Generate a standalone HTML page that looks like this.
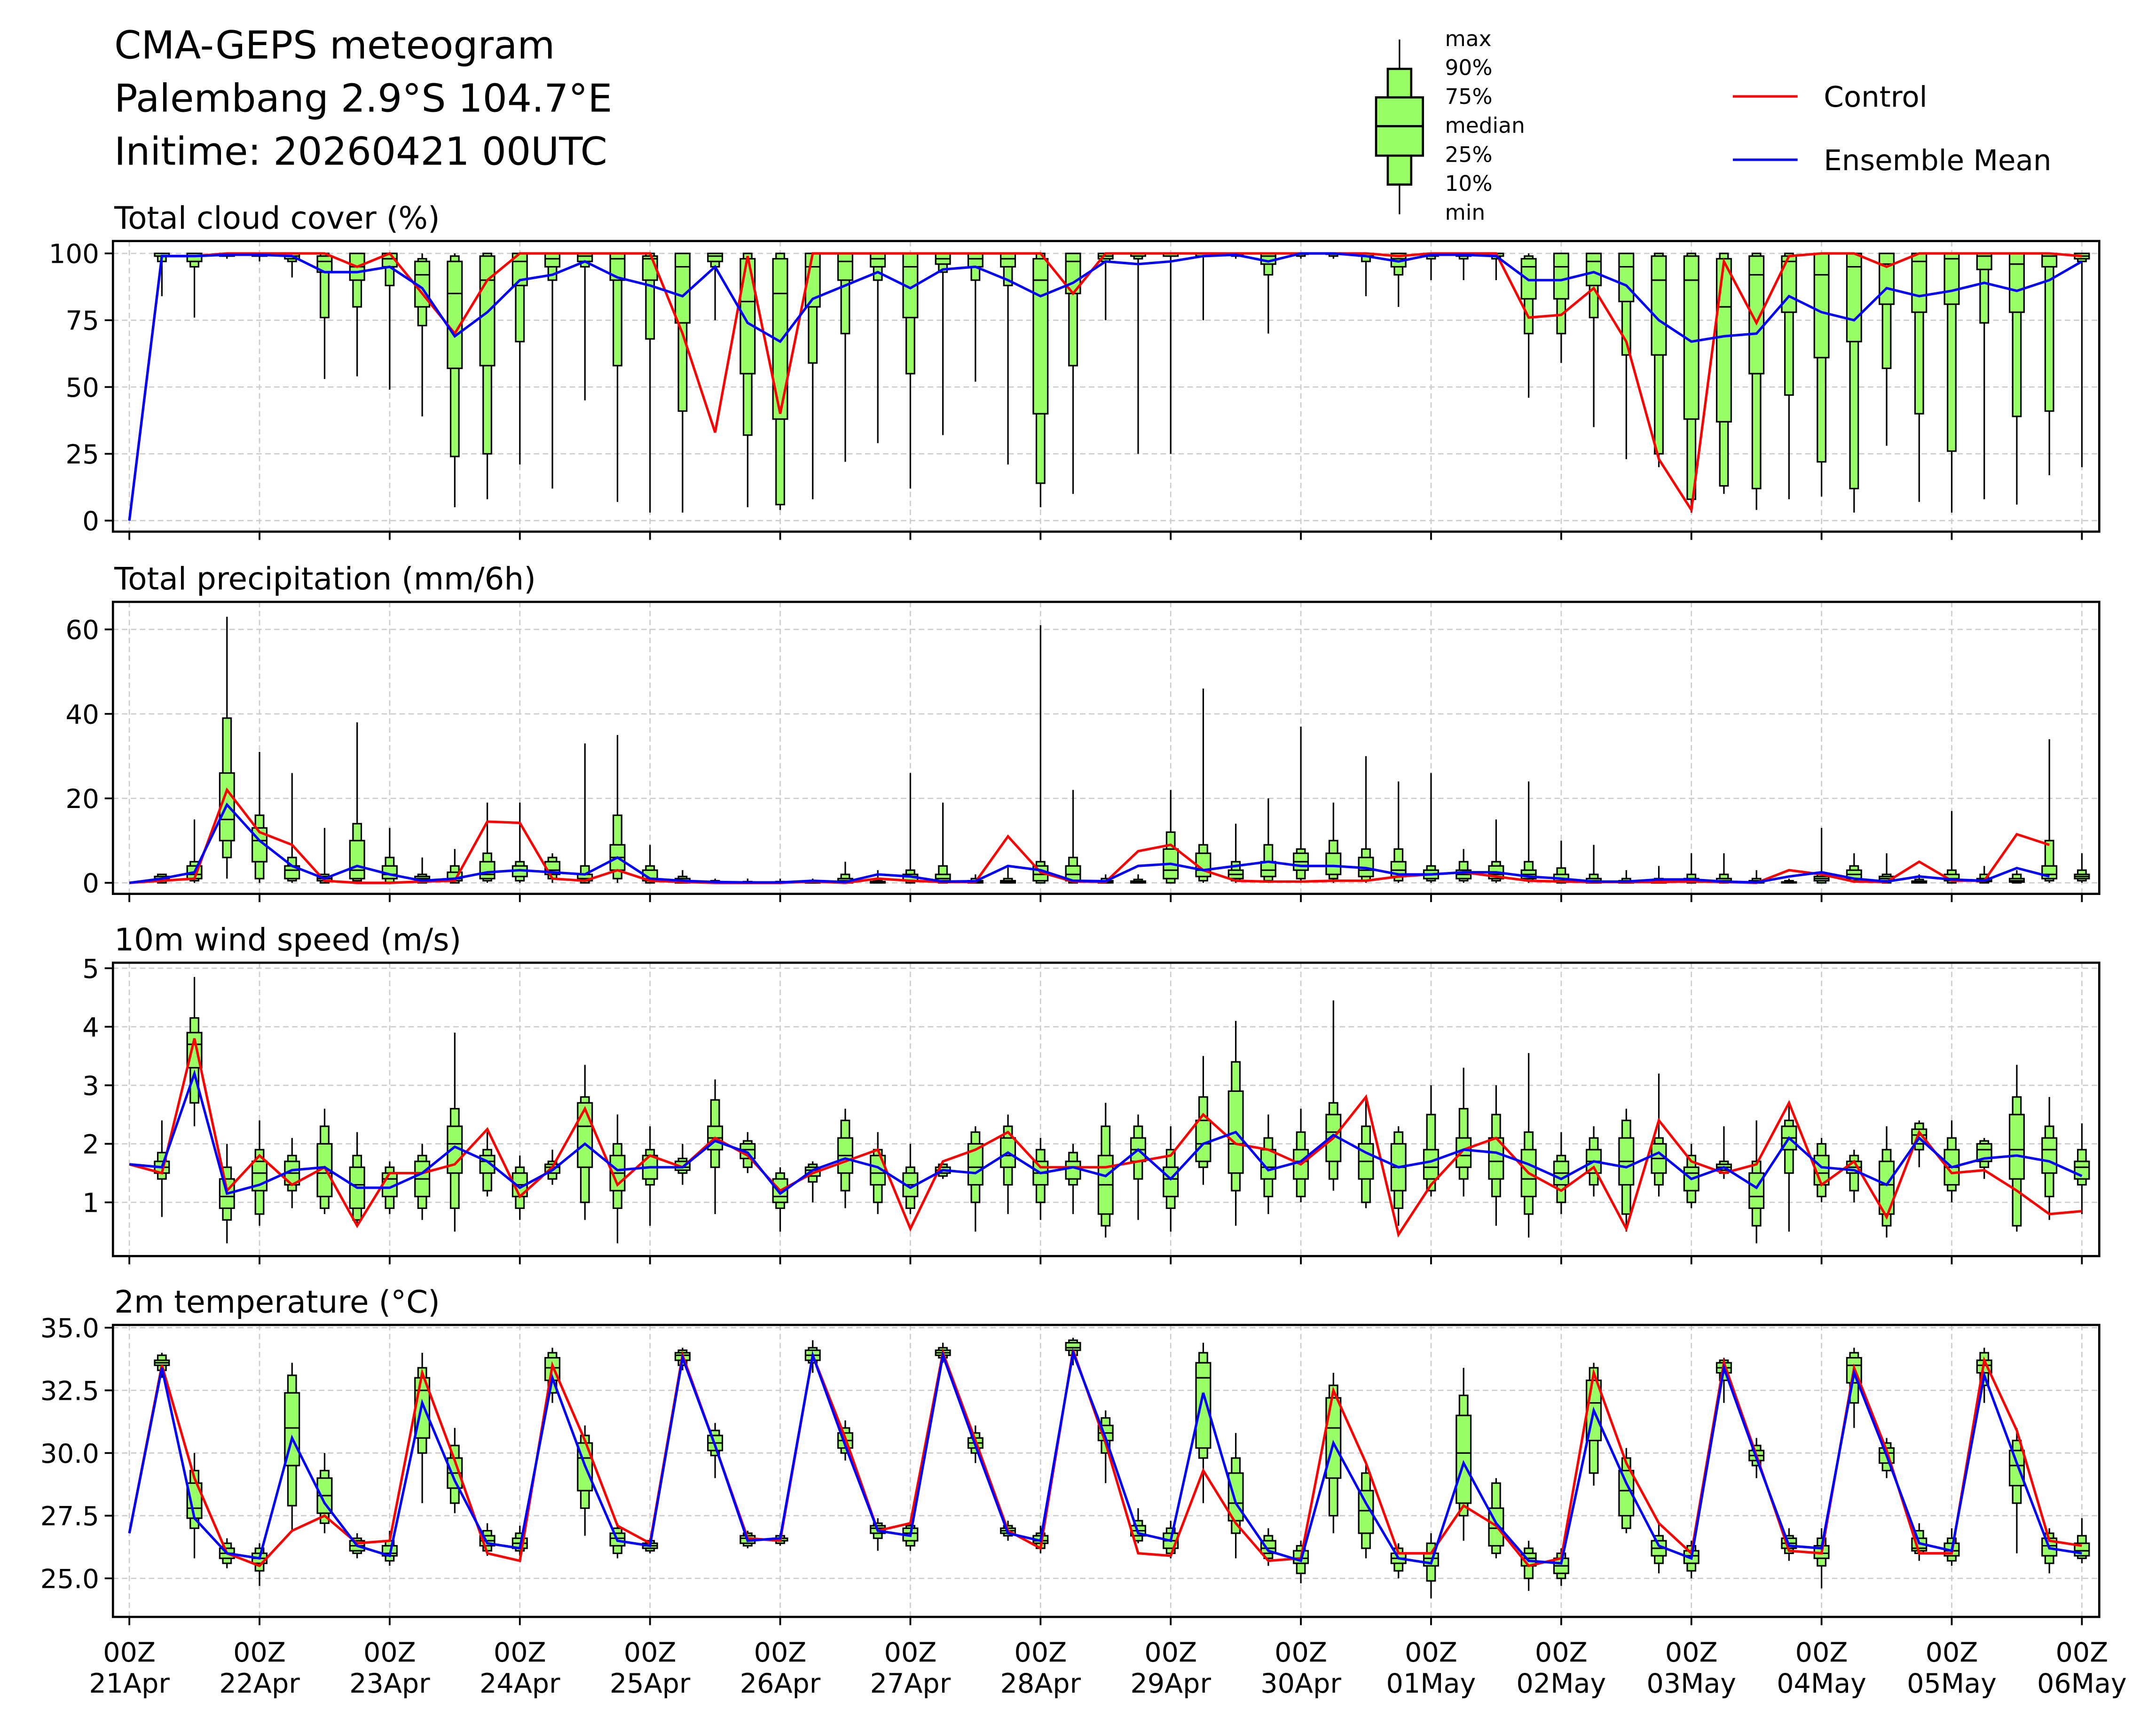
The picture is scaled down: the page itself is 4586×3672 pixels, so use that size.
<!DOCTYPE html>
<html><head><meta charset="utf-8"><style>
html,body{margin:0;padding:0;background:#fff;}
svg{display:block;}
text{font-family:"DejaVu Sans","Liberation Sans",sans-serif;fill:#000;}
</style></head><body>
<svg id="fig" xmlns="http://www.w3.org/2000/svg" width="4586" height="3672" viewBox="0 0 1565.2 1253.2" preserveAspectRatio="none">
<rect x="0" y="0" width="1565.2" height="1253.2" fill="#fff"/>
<g font-size="28">
<text x="83" y="42.5">CMA-GEPS meteogram</text>
<text x="83" y="81">Palembang 2.9°S 104.7°E</text>
<text x="83" y="119.7">Initime: 20260421 00UTC</text>
</g>
<g>
<line x1="1016" y1="28.7" x2="1016" y2="155.6" stroke="#000" stroke-width="1.1"/>
<rect x="1007.5" y="50" width="17" height="84" fill="#99ff66" stroke="#000" stroke-width="1.6"/>
<rect x="999" y="70.7" width="34" height="42.3" fill="#99ff66" stroke="#000" stroke-width="1.6"/>
<line x1="999" y1="91.6" x2="1033" y2="91.6" stroke="#000" stroke-width="1.6"/>
<g font-size="15.5">
<text x="1049" y="33.5">max</text><text x="1049" y="54.5">90%</text><text x="1049" y="75.5">75%</text>
<text x="1049" y="96.5">median</text><text x="1049" y="117.5">25%</text><text x="1049" y="138.5">10%</text><text x="1049" y="159.5">min</text>
</g></g>
<g font-size="20.8">
<line x1="1258" y1="70" x2="1305" y2="70" stroke="#ff0000" stroke-width="1.8"/>
<text x="1324" y="77.5">Control</text>
<line x1="1258" y1="116" x2="1305" y2="116" stroke="#0000ff" stroke-width="1.8"/>
<text x="1324" y="123.5">Ensemble Mean</text>
</g>
<g id="panels"></g>
</svg>
<script>
// ---- data: [min,p10,p25,median,p75,p90,max] per 6-hourly step (1..60) ----
const dayLabels = ["21Apr","22Apr","23Apr","24Apr","25Apr","26Apr","27Apr","28Apr","29Apr","30Apr","01May","02May","03May","04May","05May","06May"];
const cloudBox = [
[84,97,99,99,100,100,100],[76,95,97,99,100,100,100],[98,99,99,100,100,100,100],[97,99,99,100,100,100,100],
[91,97,98,99,100,100,100],[53,76,93,97,99,100,100],[54,80,90,95,100,100,100],[49,88,95,98,100,100,100],
[39,73,80,92,97,98,100],[5,24,57,85,97,99,100],[8,25,58,90,99,100,100],[21,67,88,97,100,100,100],
[12,90,95,98,100,100,100],[45,95,97,99,100,100,100],[7,58,90,98,100,100,100],[3,68,90,98,99,100,100],
[3,41,74,95,100,100,100],[75,95,97,99,100,100,100],[5,32,55,82,98,100,100],[4,6,38,85,98,100,100],
[8,59,80,95,100,100,100],[22,70,90,97,100,100,100],[29,90,95,98,100,100,100],[12,55,76,95,100,100,100],
[32,93,96,98,100,100,100],[52,90,95,98,100,100,100],[21,88,95,98,100,100,100],[5,14,40,90,98,100,100],
[10,58,85,97,100,100,100],[75,97,98,99,100,100,100],[25,98,99,100,100,100,100],[25,99,99,100,100,100,100],
[75,99,99,100,100,100,100],[98,99,100,100,100,100,100],[70,92,96,99,100,100,100],[98,99,100,100,100,100,100],
[98,99,100,100,100,100,100],[84,97,99,99,100,100,100],[80,92,95,98,100,100,100],[90,98,99,100,100,100,100],
[90,98,99,100,100,100,100],[90,98,99,100,100,100,100],[46,70,83,95,98,99,100],[59,70,83,95,100,100,100],
[35,76,88,97,100,100,100],[23,62,82,95,100,100,100],[20,25,62,90,99,100,100],[3,8,38,90,99,100,100],
[10,13,37,80,98,100,100],[4,12,55,92,99,100,100],[8,47,78,97,99,100,100],[9,22,61,92,100,100,100],
[3,12,67,95,100,100,100],[28,57,81,96,100,100,100],[7,40,78,97,100,100,100],[3,26,81,98,100,100,100],
[8,74,94,99,100,100,100],[6,39,78,96,100,100,100],[17,41,95,99,100,100,100],[20,97,98,99,100,100,100]];
const cloudCtl = [0,99,99,100,100,100,100,95,100,85,70,90,100,100,100,100,100,70,33,99,40,100,100,100,100,100,100,100,100,85,100,100,100,100,100,100,100,100,100,99,100,100,100,76,77,87,67,23,4,97,74,99,100,100,95,100,100,100,100,100,99];
const cloudMean = [0,99,99,99.5,99.5,99,93,93,95,87,69,78,90,92,97,91,88,84,95,74,67,83,88,93,87,94,95,90,84,89,97,96,97,99,99.5,97,100,100,99,97,99.5,99.5,99,90,90,93,88,75,67,69,70,84,78,75,87,84,86,89,86,90,97];

const precipBox = [
[0,0,0.5,1,1.5,2,2],[0,0.5,1,2,4,5,15],[1,6,10,15,26,39,63],[0,1,5,10,13,16,31],[0,0.5,1,3,4,6,26],
[0,0,0.5,1,1.5,2,13],[0,0.5,1,3,10,14,38],[0,0,1,2,4,6,13],[0,0,0.5,1,1.5,2,6],[0,0,0.5,1,2.5,4,8],
[0,0.5,1,2,5,7,19],[0,0.5,1.5,3,4,5,19],[0,1,2,3,5,6,7],[0,0,0.5,1,2,4,33],[0,1,3,6,9,16,35],
[0,0,0.5,1,3,4,9],[0,0,0,0.5,1,1.5,3],[0,0,0,0,0.3,0.5,1],[0,0,0,0,0.2,0.3,1],[0,0,0,0,0.2,0.3,1],
[0,0,0,0,0.2,0.3,1],[0,0,0,0.5,1,2,5],[0,0,0,0,0.3,0.5,3],[0,0,0.5,1.5,2,3,26],[0,0,0.5,1,2,4,19],
[0,0,0,0.2,0.5,1,2],[0,0,0,0.2,0.5,1,4],[0,0,0.5,2,4,5,61],[0,0,0.5,2,4,6,22],[0,0,0,0.3,0.5,1,2],
[0,0,0,0.2,0.4,0.8,2],[0,0,1,3,8,12,22],[0,0.5,1.5,3,7,9,46],[0,0.5,1,2,3,5,14],[0,0.5,1.5,3,5,9,20],
[0,1,3,5,7,8,37],[0,1,2,4,7,10,19],[0,0.5,1.5,3,6,8,30],[0,0.5,1.5,3,5,8,24],[0,0.5,1,2,3,4,26],
[0,0.5,1,2,3,5,8],[0,0.5,1,2,4,5,15],[0,0.5,1,2,3,5,24],[0,0,0.5,1,2,3.5,10],[0,0,0,0.5,1,2,9],
[0,0,0,0.2,0.5,1,3],[0,0,0,0.2,0.5,1,4],[0,0,0.3,0.5,1,2,7],[0,0,0.3,0.5,1,2,7],[0,0,0,0.3,0.5,1,3],
[0,0,0,0.1,0.2,0.5,1],[0,0,0.5,1,1.5,2,13],[0,0.5,1,2,3,4,7],[0,0,0.5,1,1.5,2,7],[0,0,0,0.2,0.4,0.8,2],
[0,0,0.5,1,2,3,17],[0,0,0.3,0.5,1,2,4],[0,0,0.2,0.5,1,2,3],[0,0.5,1,2,4,10,34],[0,0.5,1,1.5,2,3,7]];
const precipCtl = [0,0.5,1,22,12,9,0.5,0,0,0.3,0.5,14.5,14.2,1,0.5,3,0.5,0.2,0,0,0,0.3,0,1,0.5,0.2,0.2,11,2.5,0.3,0.2,7.5,9,3,0.5,0.3,0.3,0.5,0.5,1.5,2,2.5,1.5,0.5,0.3,0.2,0.2,0.2,0.3,0.2,0,3,2,0.3,0.2,5,0.5,0.5,11.5,9];
const precipMean = [0,1,2.5,18.5,10,4,1,4,2,0.5,1,2.5,3,2.5,2,6,1,0.5,0.2,0.1,0.1,0.5,0.2,2,1.5,0.3,0.4,4,3,0.5,0.4,4,4.5,3,4,5,4,4,3.5,2,2,2.5,2.5,1.5,1,0.3,0.3,0.8,0.8,0.3,0.1,1.5,2.5,1,0.3,1.5,0.8,0.5,3.5,1.5];

const windBox = [
[0.75,1.4,1.5,1.6,1.7,1.85,2.4],[2.3,2.7,3.3,3.7,3.9,4.15,4.85],[0.3,0.7,0.9,1.1,1.4,1.6,2.0],[0.6,0.8,1.2,1.5,1.7,1.9,2.4],
[0.9,1.2,1.3,1.5,1.7,1.8,2.1],[0.8,0.9,1.1,1.5,2.0,2.3,2.6],[0.6,0.7,0.9,1.3,1.6,1.8,2.2],[0.8,0.9,1.1,1.4,1.5,1.6,1.7],
[0.7,0.9,1.1,1.4,1.7,1.8,2.0],[0.5,0.9,1.5,2.0,2.3,2.6,3.9],[1.1,1.2,1.5,1.7,1.8,1.9,2.2],[0.7,0.9,1.1,1.3,1.5,1.6,1.8],
[1.3,1.4,1.5,1.6,1.65,1.7,1.9],[0.7,1.0,1.6,2.3,2.7,2.8,3.35],[0.3,0.9,1.2,1.5,1.8,2.0,2.5],[0.6,1.3,1.4,1.6,1.8,1.9,2.3],
[1.3,1.5,1.55,1.6,1.7,1.75,2.0],[0.8,1.6,1.9,2.1,2.3,2.75,3.1],[1.5,1.6,1.75,1.9,2.0,2.05,2.2],[0.5,0.9,1.0,1.1,1.4,1.5,1.6],
[1.0,1.35,1.45,1.55,1.6,1.65,1.7],[0.9,1.2,1.5,1.8,2.1,2.4,2.6],[0.8,1.0,1.3,1.5,1.8,1.9,2.2],[0.8,0.9,1.1,1.3,1.5,1.6,2.0],
[1.4,1.45,1.5,1.55,1.6,1.65,1.7],[0.5,1.0,1.3,1.6,2.0,2.2,2.3],[0.8,1.3,1.6,1.8,2.1,2.3,2.5],[0.7,1.0,1.3,1.5,1.7,1.9,2.1],
[0.8,1.3,1.4,1.6,1.7,1.85,2.0],[0.4,0.6,0.8,1.3,1.8,2.3,2.7],[0.7,1.4,1.7,1.9,2.1,2.3,2.5],[0.5,0.9,1.1,1.4,1.6,1.9,2.3],
[1.3,1.6,1.7,2.0,2.4,2.8,3.5],[0.6,1.2,1.5,2.0,2.9,3.4,4.1],[0.8,1.1,1.4,1.6,1.9,2.1,2.5],[1.0,1.1,1.4,1.7,1.9,2.2,2.6],
[1.2,1.4,1.7,2.2,2.5,2.7,4.45],[0.9,1.0,1.4,1.7,2.0,2.3,2.8],[0.6,0.9,1.2,1.6,2.0,2.2,2.3],[1.1,1.2,1.4,1.6,1.9,2.5,3.0],
[1.1,1.4,1.6,1.8,2.1,2.6,3.3],[0.6,1.1,1.4,1.7,2.1,2.5,3.0],[0.4,0.8,1.1,1.4,1.9,2.2,3.55],[0.8,1.0,1.3,1.5,1.7,1.8,2.2],
[1.1,1.3,1.5,1.7,1.9,2.1,2.3],[0.5,0.8,1.3,1.7,2.1,2.4,2.6],[1.1,1.3,1.5,1.75,2.0,2.1,3.2],[0.9,1.0,1.2,1.5,1.6,1.8,2.0],
[1.4,1.5,1.55,1.6,1.65,1.7,2.3],[0.3,0.6,0.9,1.1,1.5,1.7,2.4],[0.5,1.5,1.9,2.1,2.3,2.4,2.7],[1.0,1.1,1.3,1.5,1.8,2.0,2.1],
[1.0,1.2,1.5,1.6,1.7,1.8,1.9],[0.4,0.6,0.8,1.3,1.7,1.9,2.3],[1.6,1.9,2.0,2.15,2.25,2.35,2.4],[1.0,1.2,1.3,1.6,1.9,2.1,2.4],
[1.4,1.6,1.7,1.9,2.0,2.05,2.1],[0.5,0.6,1.4,1.9,2.5,2.8,3.35],[0.7,1.1,1.5,1.9,2.1,2.3,2.8],[0.8,1.3,1.4,1.6,1.7,1.9,2.35]];
const windCtl = [1.65,1.5,3.8,1.2,1.8,1.3,1.6,0.6,1.5,1.5,1.65,2.25,1.1,1.6,2.6,1.3,1.8,1.6,2.1,1.8,1.2,1.5,1.7,1.9,0.55,1.7,1.9,2.2,1.6,1.6,1.6,1.7,1.8,2.5,2.0,1.9,1.65,2.1,2.8,0.45,1.3,1.9,2.1,1.5,1.2,1.6,0.55,2.4,1.7,1.5,1.65,2.7,1.3,1.7,0.75,2.2,1.5,1.55,1.2,0.8,0.85];
const windMean = [1.65,1.6,3.2,1.15,1.3,1.55,1.6,1.25,1.25,1.5,1.95,1.7,1.25,1.55,2.0,1.55,1.6,1.6,2.05,1.85,1.15,1.55,1.75,1.6,1.25,1.55,1.5,1.85,1.5,1.6,1.45,1.9,1.4,2.0,2.2,1.55,1.7,2.15,1.85,1.6,1.7,1.9,1.85,1.65,1.4,1.7,1.6,1.85,1.4,1.6,1.25,2.1,1.6,1.55,1.3,2.1,1.6,1.75,1.8,1.7,1.45];

const tempBox = [
[33.0,33.3,33.5,33.6,33.7,33.9,34.0],[25.8,27.0,27.4,27.8,28.8,29.3,30.0],[25.4,25.6,25.8,26.0,26.2,26.4,26.6],[24.7,25.3,25.6,25.8,26.0,26.2,26.4],
[26.9,27.9,29.5,31.0,32.4,33.1,33.6],[26.8,27.2,27.6,28.3,29.0,29.3,30.0],[25.8,26.0,26.1,26.3,26.5,26.6,26.8],[25.5,25.7,25.9,26.0,26.3,26.5,26.9],
[28.0,30.0,30.6,32.5,33.0,33.4,34.0],[27.6,28.0,28.6,29.2,29.8,30.3,31.0],[25.9,26.1,26.3,26.5,26.7,26.9,27.2],[25.9,26.1,26.2,26.4,26.6,26.8,27.1],
[32.0,32.4,32.9,33.4,33.8,34.0,34.2],[26.7,27.8,28.5,29.8,30.4,30.7,31.1],[25.8,26.0,26.3,26.6,26.8,27.0,27.2],[26.0,26.1,26.2,26.3,26.4,26.5,26.6],
[33.3,33.5,33.7,33.9,34.0,34.1,34.2],[29.0,29.9,30.1,30.4,30.7,30.9,31.2],[26.2,26.3,26.4,26.6,26.7,26.8,26.9],[26.3,26.4,26.5,26.6,26.6,26.7,26.8],
[33.2,33.6,33.7,33.9,34.1,34.2,34.5],[29.7,30.0,30.2,30.5,30.8,31.0,31.3],[26.1,26.6,26.8,27.0,27.1,27.2,27.4],[26.1,26.3,26.5,26.8,27.0,27.1,27.3],
[33.6,33.8,33.9,34.0,34.1,34.2,34.4],[29.6,30.0,30.2,30.4,30.6,30.8,31.1],[26.5,26.7,26.8,26.9,27.0,27.1,27.3],[26.0,26.2,26.4,26.5,26.7,26.8,27.1],
[33.5,33.9,34.1,34.2,34.4,34.5,34.6],[28.8,30.0,30.5,30.8,31.1,31.4,31.7],[26.4,26.5,26.7,26.9,27.1,27.3,27.8],[25.8,26.0,26.2,26.5,26.8,27.0,27.3],
[28.0,29.8,30.2,33.0,33.6,34.0,34.4],[25.8,26.8,27.3,28.0,29.2,29.8,30.8],[25.5,25.8,26.0,26.2,26.5,26.7,27.0],[24.8,25.2,25.6,25.8,26.1,26.3,26.5],
[26.8,27.5,29.0,31.0,32.2,32.7,33.2],[25.8,26.2,26.8,27.7,28.5,29.2,29.6],[25.0,25.3,25.6,25.8,26.0,26.2,26.4],[24.2,24.9,25.5,25.8,26.0,26.4,26.8],
[26.5,27.5,28.0,30.0,31.5,32.3,33.4],[25.8,26.0,26.3,27.0,27.8,28.8,29.0],[24.5,25.0,25.5,25.8,26.0,26.2,26.5],[24.7,25.0,25.2,25.5,25.8,26.0,26.2],
[28.7,29.2,30.5,32.0,32.9,33.4,33.6],[26.8,27.0,27.5,28.5,29.3,29.8,30.2],[25.2,25.6,25.9,26.2,26.5,26.7,27.2],[25.0,25.3,25.6,25.9,26.1,26.3,26.5],
[32.0,32.9,33.2,33.4,33.6,33.7,33.8],[29.0,29.5,29.7,29.9,30.1,30.3,30.6],[25.7,26.0,26.2,26.4,26.6,26.7,27.0],[24.6,25.5,25.8,26.0,26.3,26.6,27.0],
[31.0,32.0,32.8,33.5,33.8,34.0,34.2],[29.0,29.3,29.6,30.0,30.2,30.4,30.6],[25.7,26.0,26.1,26.2,26.6,26.9,27.2],[25.5,25.7,25.9,26.1,26.4,26.6,27.0],
[32.0,32.7,33.2,33.5,33.7,34.0,34.2],[26.0,28.0,28.7,29.5,30.1,30.5,31.0],[25.2,25.6,25.9,26.3,26.6,26.8,27.0],[25.6,25.8,25.9,26.1,26.4,26.7,27.4]];
const tempCtl = [26.8,33.5,29.0,26.0,25.5,26.9,27.5,26.4,26.5,33.2,29.7,26.0,25.7,33.5,30.5,27.1,26.4,33.9,30.3,26.6,26.5,33.9,30.6,26.9,27.2,34.0,30.5,26.9,26.2,34.1,30.4,26.0,25.9,29.3,27.2,25.7,25.8,32.5,29.6,26.0,26.0,27.9,27.1,25.5,25.8,33.2,29.6,27.2,26.0,33.6,29.9,26.1,26.0,33.4,30.1,26.0,26.0,33.7,30.9,26.5,26.3];
const tempMean = [26.8,33.4,27.4,26.0,25.8,30.6,28.0,26.3,25.9,32.0,28.9,26.4,26.2,33.0,29.5,26.5,26.3,33.8,30.3,26.5,26.6,33.9,30.3,26.9,26.7,33.9,30.3,26.8,26.5,34.0,30.6,26.8,26.5,32.4,28.0,26.1,25.7,30.4,28.0,25.8,25.6,29.6,27.2,25.7,25.6,31.7,28.8,26.3,25.8,33.4,29.8,26.3,26.2,33.2,29.9,26.4,26.1,33.1,29.6,26.2,26.0];

const cloudTicks = [0,25,50,75,100];
const precipTicks = [0,20,40,60];
const windTicks = [1,2,3,4,5];
const tempTicks = [25.0,27.5,30.0,32.5,35.0];
const cloudTickLabels = ["0","25","50","75","100"];
const precipTickLabels = ["0","20","40","60"];
const windTickLabels = ["1","2","3","4","5"];
const tempTickLabels = ["25.0","27.5","30.0","32.5","35.0"];

// ---- layout (viewBox units) ----
const NS = "http://www.w3.org/2000/svg";
const AXL = 82, AXR = 1524, X0 = 93.9, DAY = 94.5;
function xScale(step){ return X0 + step * DAY / 4; }
function mk(tag, attrs, parent){ const e = document.createElementNS(NS, tag); for (const k in attrs) e.setAttribute(k, attrs[k]); parent.appendChild(e); return e; }

const panels = [
 {name:"cloud", title:"Total cloud cover (%)", top:175, bot:386, v0:0, y0:378, v1:100, y1:184, ticks:cloudTicks, labels:cloudTickLabels, box:cloudBox, ctl:cloudCtl, mean:cloudMean},
 {name:"precip", title:"Total precipitation (mm/6h)", top:437, bot:649, v0:0, y0:641, v1:60, y1:457, ticks:precipTicks, labels:precipTickLabels, box:precipBox, ctl:precipCtl, mean:precipMean},
 {name:"wind", title:"10m wind speed (m/s)", top:699, bot:912, v0:1, y0:873, v1:5, y1:703, ticks:windTicks, labels:windTickLabels, box:windBox, ctl:windCtl, mean:windMean},
 {name:"temp", title:"2m temperature (°C)", top:962, bot:1174, v0:25, y0:1146, v1:35, y1:964, ticks:tempTicks, labels:tempTickLabels, box:tempBox, ctl:tempCtl, mean:tempMean}
];
const root = document.getElementById("panels");

panels.forEach((p, pi) => {
  const yScale = v => p.y0 + (v - p.v0) * (p.y1 - p.y0) / (p.v1 - p.v0);
  const g = mk("g", {}, root);
  
  
  const t = mk("text", {x:83, y:p.top - 9, "font-size":22.5}, g);
  t.textContent = p.title;
  
  
  const grid = mk("g", {stroke:"#cccccc", "stroke-width":0.9, "stroke-dasharray":"4,2.5"}, g);
  
  
  for (let d = 0; d < dayLabels.length; d++) { const x = xScale(d*4); mk("line", {x1:x, x2:x, y1:p.top, y2:p.bot}, grid); }
  p.ticks.forEach(v => { const y = yScale(v); mk("line", {x1:AXL, x2:AXR, y1:y, y2:y}, grid); });
  const yax = mk("g", {}, g);
  
  
  p.ticks.forEach((v, i) => {
    const y = yScale(v);
    mk("line", {x1:AXL-6, x2:AXL, y1:y, y2:y, stroke:"#000", "stroke-width":1.3}, yax);
    const tl = mk("text", {x:AXL-10, y:y+7, "font-size":19.2, "text-anchor":"end"}, yax);
    tl.textContent = p.labels[i];
  });
  const xax = mk("g", {}, g);
  
  
  for (let d = 0; d < dayLabels.length; d++) {
    const x = xScale(d*4);
    mk("line", {x1:x, x2:x, y1:p.bot, y2:p.bot+6, stroke:"#000", "stroke-width":1.3}, xax);
    if (pi === 3) {
      const a = mk("text", {x:x, y:1206.5, "font-size":19.5, "text-anchor":"middle"}, xax); a.textContent = "00Z";
      const b = mk("text", {x:x, y:1229, "font-size":19.5, "text-anchor":"middle"}, xax); b.textContent = dayLabels[d];
    }
  }
  const bg = mk("g", {stroke:"#000", "stroke-width":1.1}, g);
  
  
  p.box.forEach((b, i) => {
    const x = xScale(i + 1);
    const bx = mk("g", {}, bg);
    
    
    mk("line", {x1:x, x2:x, y1:yScale(b[0]), y2:yScale(b[6])}, bx);
    const yt = yScale(b[5]), yb = yScale(b[1]);
    mk("rect", {x:x-3, y:Math.min(yt,yb), width:6, height:Math.max(0.6,Math.abs(yb-yt)), fill:"#99ff66"}, bx);
    const qt = yScale(b[4]), qb = yScale(b[2]);
    mk("rect", {x:x-5.25, y:Math.min(qt,qb), width:10.5, height:Math.max(0.6,Math.abs(qb-qt)), fill:"#99ff66"}, bx);
    const ym = yScale(b[3]);
    mk("line", {x1:x-5.25, x2:x+5.25, y1:ym, y2:ym}, bx);
  });
  const ptsC = p.ctl.map((v, i) => xScale(i).toFixed(2) + "," + yScale(v).toFixed(2)).join(" ");
  const ptsM = p.mean.map((v, i) => xScale(i).toFixed(2) + "," + yScale(v).toFixed(2)).join(" ");
  const lc = mk("polyline", {points:ptsC, fill:"none", stroke:"#ff0000", "stroke-width":1.8, "stroke-linejoin":"miter"}, g);
  
  
  const lm = mk("polyline", {points:ptsM, fill:"none", stroke:"#0000ff", "stroke-width":1.8, "stroke-linejoin":"miter"}, g);
  
  
  const fr = mk("rect", {x:AXL, y:p.top, width:AXR-AXL, height:p.bot-p.top, fill:"none", stroke:"#000", "stroke-width":1.6}, g);
  
  
});
</script>
</body></html>
